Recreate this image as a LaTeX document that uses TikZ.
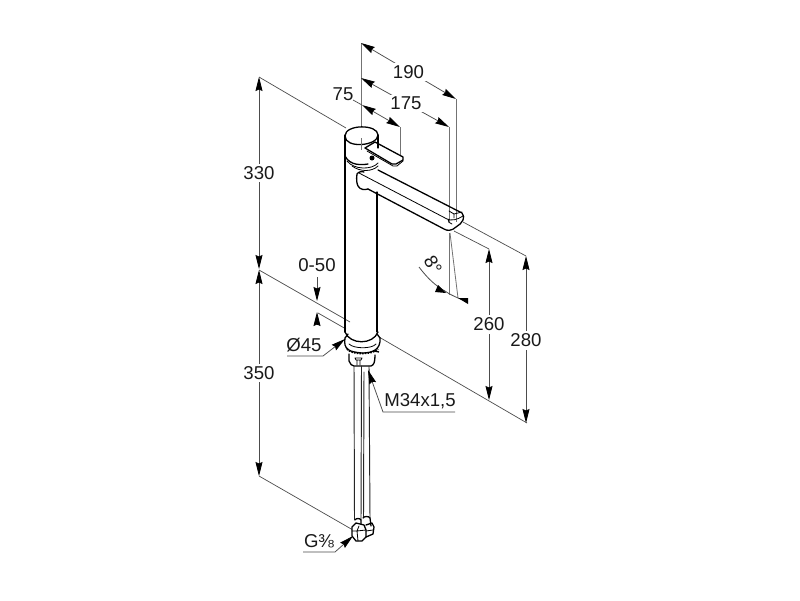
\documentclass[tikz,border=0pt]{standalone}
\usepackage{fontspec}
\setmainfont{Liberation Sans}
\usetikzlibrary{arrows.meta}
\definecolor{ext}{gray}{0.3}
\tikzset{
 x=1pt,y=-1pt,
 dimline/.style={line width=0.75pt,color=ext,{Stealth[length=14pt,width=7pt,inset=1.5pt,color=black]}-{Stealth[length=14pt,width=7pt,inset=1.5pt,color=black]}},
 leader/.style={line width=0.75pt,color=ext,-{Stealth[length=14pt,width=7pt,inset=1.5pt,color=black]}},
 extline/.style={line width=0.7pt,color=ext},
 gridline/.style={line width=0.8pt,color=black!55},
 dimtext/.style={fill=white,inner sep=2.5pt,font=\fontsize{18.6}{18.6}\selectfont,text=black!90},
 labeltext/.style={inner sep=0pt,font=\fontsize{18.6}{18.6}\selectfont,text=black!90},
 outline/.style={line width=1.3pt,color=black,line join=round,line cap=round},
 tubeline/.style={line width=0.95pt,color=black!85,line cap=round},
 thinout/.style={line width=0.8pt,color=black,line join=round,line cap=round},
}
\begin{document}
\begin{tikzpicture}
\useasboundingbox (0,0) rectangle (800,600);
\fill[white] (0,0) rectangle (800,600);
% coordinates of the dimensions
\coordinate (a190) at (361,43); \coordinate (b190) at (456,99);
\coordinate (a175) at (361,78); \coordinate (b175) at (449,127);
\coordinate (a75) at (362,105); \coordinate (b75) at (400,127);
\coordinate (a330) at (259,77); \coordinate (b330) at (259,269);
\coordinate (a350) at (259,270); \coordinate (b350) at (259,476);
\coordinate (a260) at (489,249); \coordinate (b260) at (489,400);
\coordinate (a280) at (526,256); \coordinate (b280) at (526,423);
% extension lines
\draw[gridline] (a190) -- (361,150);
\draw[gridline] (b190) -- (456,222);
\draw[gridline] (b175) -- (449,222);
\draw[gridline] (b75) -- (400,156);
\draw[extline] (a330) -- (346,128);
\draw[extline] (a350) -- (350,322);
\draw[extline] (b350) -- (353,530);
\draw[extline] (318,313) -- (346,329);
\draw[extline] (379,337) -- (527,423);
\draw[extline] (463,222) -- (a280);
\draw[extline] (454,231) -- (a260);
\draw[gridline] (449,233) -- (449,295);
\draw[gridline] (450,233) -- (458,298);
% faucet body
\draw[outline] (345,135) -- (345,332);
\draw[outline] (377,192) -- (377,332);
\draw[outline] (345,332) .. controls (350,345) and (373,345) .. (378,332);
% lever
\draw[outline,fill=white] (365,148) -- (375,142) -- (403,157) -- (403,160) -- (396,164) -- (392,164) -- cycle;
\draw[thinout] (367,151) -- (393,166) -- (397,166) -- (403,161);
\fill[black] (372,158) circle (2.5);
% cap
\draw[outline,fill=white] (345,136) .. controls (345,124) and (378,124) .. (378,135) .. controls (378,146) and (345,149) .. (345,136) -- cycle;
\draw[outline] (378,135) -- (378,148);
\draw[outline] (345,136) -- (345,155);
\draw[outline] (345,156) .. controls (350,166) and (362,165) .. (368,164);
\draw[thinout] (347,161) .. controls (354,170) and (372,170) .. (378,163);
\draw[thinout] (352,166) .. controls (360,172) and (372,172) .. (378,166);
\draw[gridline] (361,138) -- (361,150);
% spout
\draw[outline] (378,170) -- (462,213) .. controls (464,215) and (464,218) .. (463,220) .. controls (462,223) and (459,225) .. (456,227) .. controls (452,231) and (447,231) .. (444,229) -- (368,189);
\draw[outline] (357,174) .. controls (356,180) and (357,184) .. (358,186) .. controls (360,190) and (365,190) .. (368,189);
\draw[outline] (357,174) .. controls (358,172) and (362,171) .. (364,172);
\draw[thinout] (359,173) -- (447,219) .. controls (451,221) and (457,220) .. (463,216);
\draw[thinout] (449,211) -- (454,214) -- (462,212);
\draw[thinout] (448,219) .. controls (448,221) and (449,224) .. (452,224) (454,214) -- (454,218);
% base ring
\draw[outline] (345,338) .. controls (343,350) and (350,352) .. (362,353) .. controls (372,353) and (381,350) .. (380,338);
\draw[outline] (345,338) -- (348,334);
\draw[outline] (380,338) -- (377,334);
\draw[thinout] (349,344) .. controls (354,349) and (372,349) .. (376,344);
\draw[line width=1.8pt,dash pattern=on 1.5pt off 1.2pt] (347,349) .. controls (352,355) and (372,355) .. (378,349);
\draw[line width=1.3pt] (374,351) -- (379,352);
% cup
\draw[outline] (349,354) -- (349,361) .. controls (350,364) and (352,366) .. (354,366) -- (371,366) .. controls (374,365) and (375,362) .. (375,355);
\draw[thinout] (357,360) -- (357,365) (360,360) -- (360,365) (355,358) -- (362,358) -- (361,360) -- (356,360) -- cycle;
% tubes
\draw[tubeline] (354,366) -- (354.5,520);
\draw[tubeline] (361.5,366) -- (361,520);
\draw[tubeline] (364,372) -- (363.5,518);
\draw[tubeline] (369,366) -- (370,518);
% nuts
\draw[outline] (355,520) .. controls (356,518) and (360,518) .. (361,520) -- (361,526);
\draw[outline] (363,518) .. controls (364,516) and (369,516) .. (370,518) -- (371,526);
\draw[outline,fill=white] (352,527) -- (356,523) -- (364,525) -- (366,530) -- (366,537) -- (362,541) -- (356,541) -- (352,536) -- cycle;
\draw[thinout] (352,531) -- (357,531) (359,526) -- (357,531) -- (358,541) (357,531) -- (366,530);
\draw[outline] (366,525) -- (372,523) -- (374,527) -- (373,534) -- (366,537);
\draw[thinout] (366,531) -- (373,530);
% dimension lines
\draw[dimline] (a190) -- (b190) node[midway,yshift=-1pt,dimtext] {190};
\draw[dimline] (a175) -- (b175) node[midway,yshift=-1pt,xshift=1pt,dimtext] {175};
\draw[dimline] (a75) -- (b75);
\draw[extline] (353,100) -- (a75);
\node[labeltext] (t75) at (343,94) {75};
\draw[dimline] (a330) -- (b330) node[midway,dimtext] {330};
\draw[dimline] (a350) -- (b350) node[pos=.5,dimtext] {350};
\draw[dimline] (a260) -- (b260) node[midway,dimtext] {260};
\draw[dimline] (a280) -- (b280) node[pos=.5,yshift=-1pt,dimtext] {280};
% 0-50
\node[labeltext] (t050) at (317,265) {0-50};
\coordinate (u1) at (317,277); \coordinate (u2) at (317,301);
\coordinate (l1) at (317,325); \coordinate (l2) at (317,312);
\draw[leader] (u1) -- (u2);
\draw[-{Stealth[length=14pt,width=7pt,inset=1.5pt,color=black]},line width=0.75pt] (l1) -- (l2);
% 8 degrees
\node[labeltext,rotate=-60] (t8) at (433,265) {8°};
\draw[line width=0.8pt,color=ext] (419,267) .. controls (428,279) and (436,286) .. (445,291) .. controls (449,294) and (455,297) .. (468,302);
\fill[black] (446,293) -- (438,285) -- (435,292) -- cycle;
\fill[black] (458,298) -- (468,298) -- (468,304) -- cycle;
% labels with leaders
\node[labeltext] (tphi) at (304,345) {Ø45};
\coordinate (phiu1) at (287,356); \coordinate (phiu2) at (323,356); \coordinate (phitip) at (345,339);
\draw[leader] (phiu1) -- (phiu2) -- (phitip);
\node[labeltext] (tm) at (420,401) {M34x1,5};
\coordinate (mu1) at (455,412); \coordinate (mu2) at (383,412); \coordinate (mtip) at (368,370);
\draw[leader] (mu1) -- (mu2) -- (mtip);
\node[labeltext] (tg) at (319,541) {G⅜};
\coordinate (gu1) at (303,552); \coordinate (gu2) at (335,552); \coordinate (gtip) at (353,536);
\draw[leader] (gu1) -- (gu2) -- (gtip);
\end{tikzpicture}
\end{document}
